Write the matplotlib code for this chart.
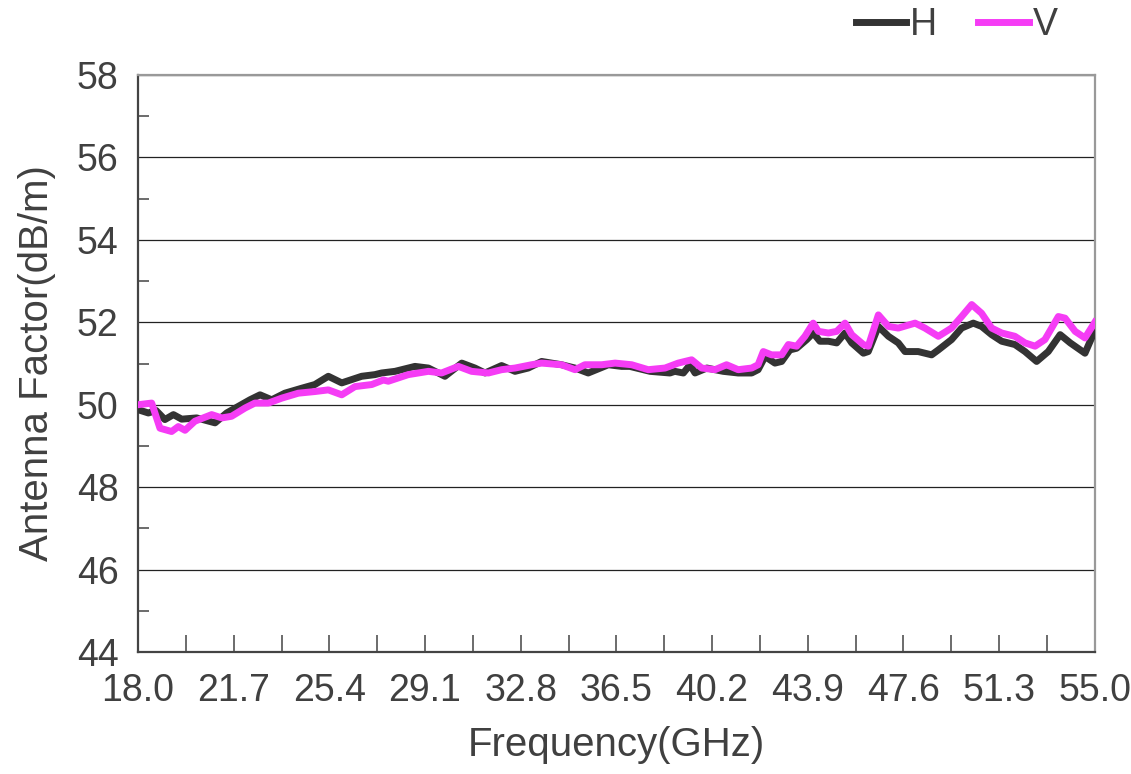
"""
Antenna factor vs frequency, H and V polarisation.
"""
import matplotlib.pyplot as plt
from matplotlib.ticker import MultipleLocator, FixedLocator
import numpy as np

plt.rcParams['font.family'] = ['Liberation Sans', 'DejaVu Sans']

freq_h = [18.0, 18.4, 18.7, 19.04, 19.37, 19.69, 20.27, 20.98, 21.43, 21.88, 22.33, 22.72, 23.17,
          23.68, 24.33, 24.84, 25.36, 25.88, 26.65, 27.16, 27.42, 27.94, 28.71, 29.23, 29.87, 30.52,
          31.03, 31.42, 32.06, 32.58, 33.09, 33.61, 34.38, 34.9, 35.41, 36.19, 36.7, 37.02, 37.8,
          38.57, 38.76, 39.09, 39.35, 39.54, 40.0, 40.31, 40.63, 41.21, 41.73, 41.98, 42.25, 42.63,
          42.89, 43.21, 43.47, 43.86, 44.11, 44.37, 44.7, 45.02, 45.34, 45.6, 46.05, 46.24, 46.63,
          47.02, 47.4, 47.66, 48.17, 48.69, 48.95, 49.46, 49.85, 50.3, 50.62, 51.01, 51.4, 51.91,
          52.3, 52.75, 53.2, 53.66, 54.05, 54.62, 55.0]
af_h = [49.88, 49.8, 49.86, 49.64, 49.76, 49.65, 49.68, 49.56, 49.8, 49.96, 50.12, 50.24, 50.12,
        50.28, 50.4, 50.49, 50.69, 50.53, 50.69, 50.73, 50.77, 50.81, 50.93, 50.89, 50.69, 51.01,
        50.89, 50.77, 50.95, 50.81, 50.89, 51.05, 50.97, 50.89, 50.77, 50.97, 50.93, 50.93, 50.81,
        50.77, 50.81, 50.77, 50.97, 50.77, 50.89, 50.85, 50.81, 50.77, 50.77, 50.85, 51.17, 51.01,
        51.05, 51.33, 51.37, 51.58, 51.74, 51.54, 51.54, 51.5, 51.74, 51.5, 51.25, 51.29, 51.9,
        51.66, 51.5, 51.29, 51.29, 51.21, 51.33, 51.58, 51.86, 51.98, 51.9, 51.7, 51.54, 51.46,
        51.29, 51.05, 51.29, 51.7, 51.5, 51.25, 51.8]

freq_v = [18.0, 18.53, 18.85, 19.3, 19.56, 19.82, 20.2, 20.85, 21.24, 21.62, 22.14, 22.52, 23.04,
          23.56, 24.2, 24.84, 25.36, 25.88, 26.39, 27.04, 27.49, 27.68, 28.45, 29.23, 29.74, 30.39,
          30.9, 31.55, 32.06, 32.58, 33.22, 33.61, 34.38, 34.9, 35.28, 35.93, 36.45, 37.09, 37.73,
          38.38, 38.89, 39.41, 39.8, 40.31, 40.76, 41.21, 41.73, 41.98, 42.18, 42.5, 42.89, 43.15,
          43.47, 43.79, 44.11, 44.31, 44.7, 45.02, 45.34, 45.6, 46.05, 46.24, 46.63, 47.02, 47.4,
          48.05, 48.43, 48.95, 49.46, 49.85, 50.24, 50.62, 51.01, 51.4, 51.91, 52.3, 52.69, 53.07,
          53.59, 53.85, 54.24, 54.62, 55.0]
af_v = [50.0, 50.04, 49.43, 49.35, 49.47, 49.38, 49.6, 49.76, 49.68, 49.72, 49.92, 50.04, 50.04,
        50.16, 50.28, 50.32, 50.36, 50.24, 50.44, 50.49, 50.6, 50.57, 50.73, 50.81, 50.77, 50.93,
        50.81, 50.77, 50.85, 50.89, 50.97, 51.01, 50.97, 50.85, 50.97, 50.97, 51.01, 50.97, 50.85,
        50.89, 51.01, 51.09, 50.89, 50.85, 50.97, 50.85, 50.89, 50.97, 51.29, 51.21, 51.21, 51.46,
        51.42, 51.66, 51.98, 51.78, 51.74, 51.78, 51.98, 51.7, 51.46, 51.42, 52.18, 51.9, 51.86,
        51.98, 51.86, 51.66, 51.86, 52.14, 52.43, 52.22, 51.86, 51.74, 51.66, 51.5, 51.42, 51.58,
        52.14, 52.1, 51.78, 51.62, 52.0]

x_ticks = [18.0, 21.7, 25.4, 29.1, 32.8, 36.5, 40.2, 43.9, 47.6, 51.3, 55.0]
y_ticks = [44, 46, 48, 50, 52, 54, 56, 58]

fig = plt.figure(figsize=(11.31, 7.74), dpi=100)
ax = fig.add_axes([0.122, 0.1576, 0.846, 0.7455])

ax.plot(freq_h, af_h, color='#333333', lw=5, solid_joinstyle='round', label='H', zorder=3)
ax.plot(freq_v, af_v, color='#f53cf5', lw=5, solid_joinstyle='round', label='V', zorder=4)

ax.set_xlim(18.0, 55.0)
ax.set_ylim(44, 58)
ax.set_xticks(x_ticks)
ax.set_xticklabels([f"{t:.1f}" for t in x_ticks])
ax.xaxis.set_minor_locator(FixedLocator(np.arange(18.0 + 1.85, 55.0, 3.7)))
ax.set_yticks(y_ticks)
ax.yaxis.set_minor_locator(MultipleLocator(1))
ax.grid(axis='y', which='major', color='#222222', lw=0.9)

ax.tick_params(axis='x', which='both', direction='in', length=12, width=1.1, color='#444444',
               labelsize=27, labelcolor='#404040', pad=15)
ax.tick_params(axis='y', which='major', length=0, labelsize=27, labelcolor='#404040', pad=14)
ax.tick_params(axis='y', which='minor', direction='in', length=8, width=1.1, color='#444444')

for side in ['left', 'bottom']:
    ax.spines[side].set_color('#444444')
    ax.spines[side].set_linewidth(1.6)
for side in ['top', 'right']:
    ax.spines[side].set_color('#999999')
    ax.spines[side].set_linewidth(1.6)

ax.set_xlabel('Frequency(GHz)', fontsize=29, color='#404040', labelpad=12)
ax.set_ylabel('Antenna Factor(dB/m)', fontsize=29, color='#404040', labelpad=15)

fig.legend(loc='upper right', bbox_to_anchor=(0.965, 1.035), ncol=2, frameon=False,
           fontsize=27, handlelength=1.35, handletextpad=0.1, columnspacing=1.1,
           labelcolor='#404040')

fig.savefig('out.png', dpi=100)
